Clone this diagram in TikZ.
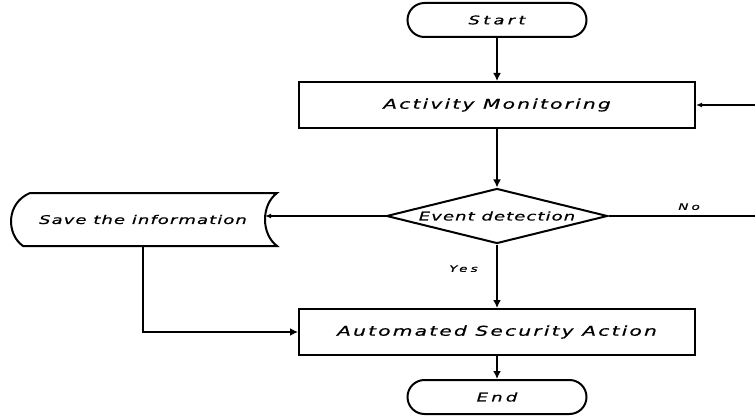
\documentclass[tikz,border=0pt]{standalone}
\usepackage{fontspec}
\setmainfont{DejaVu Sans}
\newfontfamily\boxfont[FakeStretch=1.5,FakeBold=0.6,LetterSpace=16]{DejaVu Sans}
\newfontfamily\smallfont[FakeStretch=1.5,FakeBold=0.6,LetterSpace=9]{DejaVu Sans}
\newfontfamily\termfont[FakeStretch=1.5,FakeBold=0.6,LetterSpace=27]{DejaVu Sans}
\newfontfamily\branchfont[FakeStretch=1.5,FakeBold=0.6,LetterSpace=35]{DejaVu Sans}
\usetikzlibrary{shapes.geometric,shapes.misc,arrows.meta}
\tikzset{
  chart/.style={
    line width=2pt,
    line join=miter
  },
  process/.style={
    chart, draw=black, rectangle,
    minimum width=396pt, minimum height=46pt, inner sep=0pt,
    font=\boxfont\itshape\fontsize{13.5}{15}\selectfont
  },
  decision/.style={
    chart, draw=black, diamond, aspect=4,
    minimum width=221pt, minimum height=55pt, inner sep=0pt,
    font=\smallfont\itshape\fontsize{12}{14}\selectfont
  },
  terminal/.style={
    chart, draw=black, rounded rectangle,
    minimum width=179pt, minimum height=34pt, inner sep=0pt,
    font=\termfont\itshape\fontsize{12}{14}\selectfont
  },
  storage/.style={
    minimum width=254pt, minimum height=53pt, inner sep=0pt,
    font=\smallfont\itshape\fontsize{12}{14}\selectfont
  },
  flow/.style={line width=2pt, -{Latex[length=8pt,width=8pt]}},
  flow-thin/.style={line width=1.3pt, -{Latex[length=6pt,width=5pt]}},
  branch-label/.style={font=\branchfont\itshape\fontsize{9}{11}\selectfont}
}

\begin{document}
\begin{tikzpicture}[x=1pt, y=-1pt]
  \useasboundingbox (0,0) rectangle (755,417);

  % --- Main column ---
  \node[terminal] (start)   at (497,20)  {Start};
  \node[process]  (monitor) at (497,105) {Activity Monitoring};
  \node[decision] (detect)  at (497,216) {Event detection};
  \node[process]  (action)  at (497,332) {Automated Security Action};
  \node[terminal] (end)     at (497,397) {End};

  % --- Stored data box on the left ---
  \node[storage] (save) at (143,219.5) {Save the information};
  \draw[chart] (30,193) -- (277,193)
    .. controls (261,205) and (261,234) .. (277,246) -- (23,246)
    .. controls (6,234) and (6,203) .. cycle;
  \coordinate (save-in) at (265,216);

  % loose ends on the right edge
  \coordinate (loop-in) at (755,105);
  \coordinate (no-out)  at (755,216);

  % --- Connectors ---
  \draw[flow] (start) -- (monitor);
  \draw[flow] (monitor) -- (detect);
  \draw[flow] (detect) -- node[branch-label, pos=0.38, left=15pt] {Yes} (action);
  \draw[flow] (action) -- (end);
  \draw[flow-thin] (detect.west) -- (save-in);
  \draw[line width=1.3pt] (detect.east) -- node[branch-label, pos=0.55, above=2pt] {No} (no-out);
  \draw[flow-thin] (loop-in) -- (monitor.east);
  \draw[flow] (save.south) |- (action.west);
\end{tikzpicture}
\end{document}
